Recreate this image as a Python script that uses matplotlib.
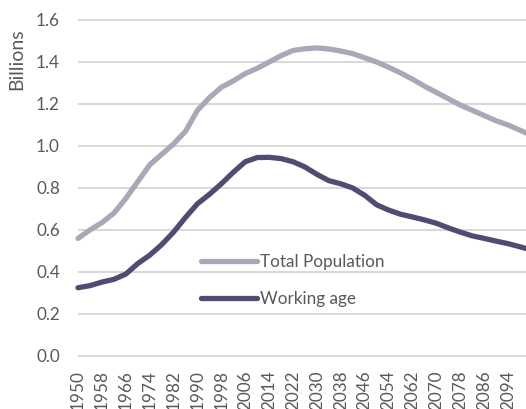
import matplotlib
matplotlib.use("Agg")
import matplotlib.pyplot as plt

years = [1950, 1954, 1958, 1962, 1966, 1970, 1974, 1978, 1982, 1986, 1990, 1994,
         1998, 2002, 2006, 2010, 2014, 2018, 2022, 2026, 2030, 2034, 2038, 2042,
         2046, 2050, 2054, 2058, 2062, 2066, 2070, 2074, 2078, 2082, 2086, 2090,
         2094, 2098, 2100]
total_population = [0.56, 0.60, 0.635, 0.68, 0.75, 0.83, 0.91, 0.96, 1.01, 1.07, 1.17, 1.23,
                    1.28, 1.31, 1.345, 1.37, 1.40, 1.43, 1.455, 1.463, 1.467, 1.462, 1.452, 1.44,
                    1.42, 1.40, 1.375, 1.348, 1.318, 1.285, 1.255, 1.225, 1.195, 1.17, 1.145, 1.12,
                    1.10, 1.075, 1.062]
working_age = [0.325, 0.335, 0.352, 0.365, 0.39, 0.44, 0.48, 0.53, 0.59, 0.66, 0.725, 0.77,
               0.82, 0.875, 0.925, 0.945, 0.946, 0.94, 0.925, 0.90, 0.865, 0.835, 0.82, 0.80,
               0.765, 0.72, 0.695, 0.675, 0.662, 0.648, 0.632, 0.61, 0.59, 0.572, 0.56, 0.547,
               0.535, 0.52, 0.512]
tick_years = list(range(1950, 2095, 8))
y_ticks = [0.0, 0.2, 0.4, 0.6, 0.8, 1.0, 1.2, 1.4, 1.6]

W, H = 526, 409
fig = plt.figure(figsize=(W / 100, H / 100), dpi=100)
plt.rcParams['font.family'] = ['Lato', 'DejaVu Sans']
txt = '#595959'
grid = '#D9D9D9'
fs = 12.3

# axes in pixel coords: x 78..526, y 18..358
left, right, top, bottom = 78, 526, 18, 358
ax = fig.add_axes([left / W, 1 - bottom / H, (right - left) / W, (bottom - top) / H])
px_per_val = 210.0
ax.set_ylim(-(bottom - 356) / px_per_val, 1.6 + (20 - top) / px_per_val)
ax.set_xlim(1950, 2100)

for v in y_ticks:
    ax.axhline(v, color=grid, lw=1.5, zorder=0)

ax.plot(years, total_population, color='#AAA8B8', lw=3.8, solid_capstyle='round',
        solid_joinstyle='round', label='Total Population', clip_on=False, zorder=3)
ax.plot(years, working_age, color='#524A73', lw=3.8, solid_capstyle='round',
        solid_joinstyle='round', label='Working age', clip_on=False, zorder=3)

for s in ax.spines.values():
    s.set_visible(False)

ax.set_yticks(y_ticks)
ax.set_yticklabels([f"{v:.1f}" for v in y_ticks])
ax.set_xticks(tick_years)
ax.set_xticklabels([str(y) for y in tick_years], rotation=90)
ax.tick_params(axis='y', length=0, pad=13, labelsize=fs, labelcolor=txt)
ax.tick_params(axis='x', length=0, pad=9, labelsize=fs, labelcolor=txt)

fig.text(17 / W, 1 - 59 / H, 'Billions', rotation=90, ha='center', va='center',
         fontsize=14, color=txt)

leg = ax.legend(loc='upper left', bbox_to_anchor=(201 / W, 1 - 254 / H),
                bbox_transform=fig.transFigure, frameon=False, fontsize=fs,
                handlelength=3.25, handletextpad=0.22, labelspacing=1.25,
                borderpad=0, borderaxespad=0)
for t in leg.get_texts():
    t.set_color(txt)

fig.savefig('out.png', dpi=100)
